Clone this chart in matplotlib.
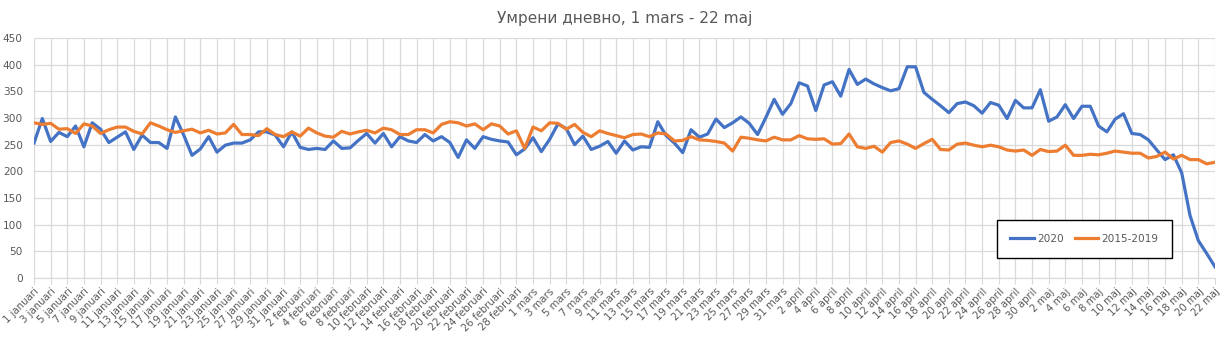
import matplotlib
matplotlib.use("Agg")
import matplotlib.pyplot as plt
import numpy as np

title = "Умрени дневно, 1 mars - 22 maj"
series_names = ["2020", "2015-2019"]

months = [("januari", 31), ("februari", 29), ("mars", 31), ("april", 30), ("maj", 22)]
categories = [f"{d} {m}" for m, n in months for d in range(1, n + 1)]

deaths_2020 = [
    253, 299, 256, 273, 265, 285, 246, 291, 279, 254, 264, 274, 241, 268, 254, 254, 243, 302, 268, 230,
    242, 265, 236, 249, 253, 253, 259, 274, 274, 268, 246, 274, 245, 241, 243, 241, 257, 243, 244, 258,
    271, 253, 271, 246, 265, 257, 254, 269, 257, 265, 254, 226, 259, 243, 265, 260, 257, 255, 231, 242,
    263, 237, 260, 289, 280, 250, 266, 241, 247, 256, 234, 257, 240, 246, 245, 293, 267, 253, 235, 278,
    264, 270, 298, 282, 291, 302, 290, 269, 301, 335, 307, 327, 366, 360, 314, 362, 368, 341, 391, 363,
    373, 364, 357, 351, 355, 396, 396, 348, 335, 323, 310, 327, 330, 323, 309, 329, 324, 299, 333, 319,
    319, 353, 294, 302, 325, 299, 322, 322, 285, 274, 298, 308, 271, 269, 259, 240, 222, 231, 197, 117,
    70, 46, 21,
]
deaths_2015_2019 = [
    291, 288, 290, 279, 280, 271, 289, 285, 271, 278, 283, 283, 275, 270, 291, 285, 278, 273, 276, 279,
    272, 277, 270, 272, 288, 269, 269, 267, 280, 269, 265, 274, 266, 281, 272, 266, 264, 275, 270, 274,
    277, 272, 281, 278, 269, 269, 278, 278, 272, 288, 293, 291, 285, 289, 278, 289, 285, 270, 276, 243,
    283, 276, 291, 290, 279, 288, 273, 265, 276, 271, 267, 263, 269, 270, 265, 272, 270, 257, 258, 265,
    259, 258, 256, 253, 238, 264, 262, 259, 257, 264, 259, 259, 267, 261, 260, 261, 251, 252, 270, 246,
    243, 247, 236, 254, 257, 251, 243, 252, 260, 241, 240, 251, 253, 249, 246, 249, 246, 240, 238, 240,
    230, 241, 237, 238, 249, 230, 230, 232, 231, 234, 238, 236, 234, 234, 225, 228, 236, 223, 230, 222,
    222, 214, 217,
]

fig = plt.figure(figsize=(12.25, 3.37), dpi=100)
ax = fig.add_axes([34 / 1225, 1 - 278 / 337, 1181 / 1225, 240 / 337])

x = np.arange(len(categories))
ax.plot(x, deaths_2020, color="#4472C4", lw=2.3, label=series_names[0], solid_joinstyle="round")
ax.plot(x, deaths_2015_2019, color="#ED7D31", lw=2.3, label=series_names[1], solid_joinstyle="round")

ax.set_xlim(0, len(categories) - 1)
ax.set_ylim(0, 450)
ax.set_yticks(range(0, 451, 50))
ticks = x[::2]
ax.set_xticks(ticks)
ax.set_xticklabels([categories[i] for i in ticks], rotation=45, ha="right",
                   rotation_mode="anchor", fontsize=7.3, color="#595959")
ax.tick_params(axis="y", labelsize=7.6, labelcolor="#595959", length=0, pad=8)
ax.tick_params(axis="x", length=4, color="#D9D9D9", pad=2)
ax.grid(True, color="#D9D9D9", lw=0.9)
ax.set_axisbelow(True)
for s in ["top", "right", "left"]:
    ax.spines[s].set_visible(False)
ax.spines["bottom"].set_color("#D9D9D9")

ax.set_title(title, fontsize=11.1, color="#595959", pad=11)

leg = ax.legend(loc="center", bbox_to_anchor=(0.8196, 0.079, 0.1397, 0.167), ncol=2,
                frameon=True, fancybox=False, fontsize=7.6, handlelength=2.2,
                columnspacing=1.1, handletextpad=0.3, borderpad=1.3)
leg.get_frame().set_edgecolor("black")
leg.get_frame().set_linewidth(1.0)
leg.get_frame().set_alpha(1)
for t in leg.get_texts():
    t.set_color("#595959")

fig.savefig("out.png", dpi=100)
